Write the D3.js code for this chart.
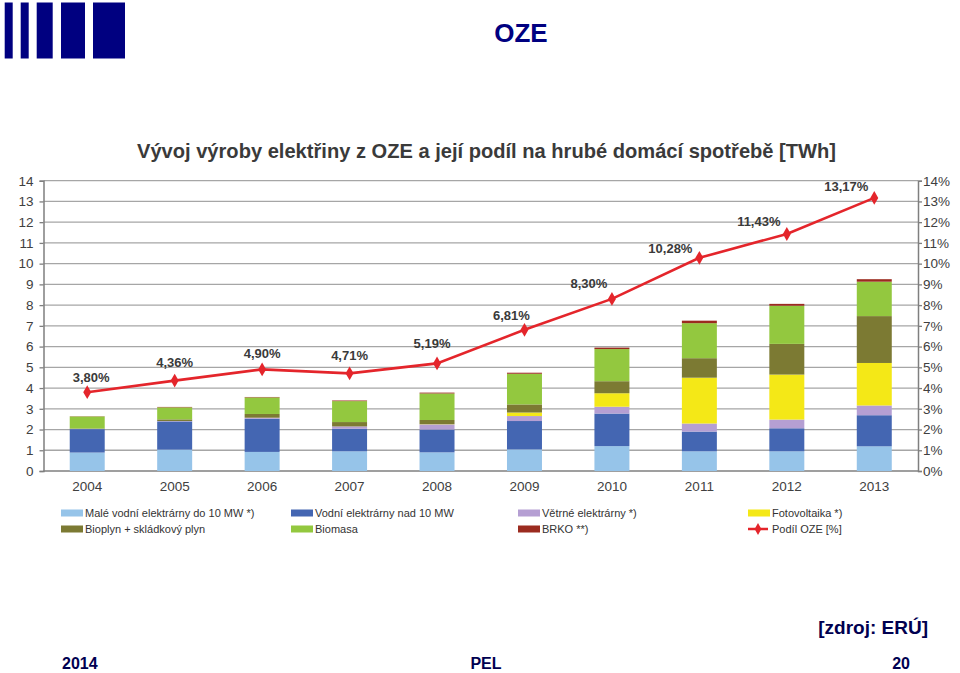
<!DOCTYPE html>
<html><head><meta charset="utf-8">
<script src="https://cdn.jsdelivr.net/npm/d3@7"></script>
<style>html,body{margin:0;padding:0;background:#fff;}svg{display:block;}</style>
</head><body>
<svg id="c" width="960" height="673"></svg>
<script>
// ---- data (TWh) ----
const years = ["2004","2005","2006","2007","2008","2009","2010","2011","2012","2013"];
const smallHydro = [0.89, 1.03, 0.92, 0.95, 0.90, 1.04, 1.20, 0.95, 0.95, 1.19];
const largeHydro = [1.13, 1.36, 1.60, 1.09, 1.10, 1.37, 1.57, 0.95, 1.11, 1.50];
const wind       = [0.01, 0.02, 0.05, 0.11, 0.25, 0.24, 0.33, 0.39, 0.42, 0.47];
const pv         = [0.00, 0.00, 0.00, 0.00, 0.01, 0.17, 0.65, 2.21, 2.17, 2.05];
const biogas     = [0.02, 0.08, 0.18, 0.21, 0.20, 0.39, 0.58, 0.94, 1.48, 2.26];
const biomass    = [0.58, 0.58, 0.80, 1.01, 1.28, 1.48, 1.55, 1.69, 1.84, 1.66];
const brko       = [0.01, 0.02, 0.02, 0.03, 0.04, 0.05, 0.07, 0.12, 0.09, 0.12];
const share      = [3.80, 4.36, 4.90, 4.71, 5.19, 6.81, 8.30, 10.28, 11.43, 13.17]; // %
const seriesNames = ["Malé vodní elektrárny do 10 MW *)","Vodní elektrárny nad 10 MW","Větrné elektrárny *)","Fotovoltaika *)","Bioplyn + skládkový plyn","Biomasa","BRKO **)"];
const lineName = "Podíl OZE [%]";
const leftTicks = d3.range(0, 15);
const rightTicks = d3.range(0, 15);

// ---- styles / layout ----
const colors = ["#96c4e9","#4466b2","#b59fd3","#f4e817","#7c7a33","#93c83f","#9b2b1f"];
const lineColor = "#e4252b";
const labelDx = [4, 0, 0, 0, -5, -13, -23, -29, -28, -28];
const labelDy = [-10, -14, -11, -13, -15, -10, -11, -5, -8, -7];
const M = {left: 43.5, right: 918, top: 180.7, bottom: 471};

const svg = d3.select("#c");
const font = "'Liberation Sans', Arial, sans-serif";

// header logo bars
const logoBars = [[4.7,8],[20.7,8],[36.7,16],[61,24],[93,32]];
svg.selectAll("rect.logo").data(logoBars).enter().append("rect")
  .attr("x", d=>d[0]).attr("y", 2.5).attr("width", d=>d[1]).attr("height", 56)
  .attr("fill", "#000080");
svg.append("text").attr("x", 521).attr("y", 42).attr("text-anchor","middle")
  .attr("font-family", font).attr("font-weight","bold").attr("font-size", 26)
  .attr("fill","#000080").text("OZE");

// chart title
svg.append("text").attr("x", 137).attr("y", 158)
  .attr("font-family", font).attr("font-weight","bold").attr("font-size", 21)
  .attr("fill","#3a3a3a").attr("textLength", 699).attr("lengthAdjust","spacingAndGlyphs")
  .text("Vývoj výroby elektřiny z OZE a její podíl na hrubé domácí spotřebě [TWh]");

// scales
const x = d3.scaleBand().domain(years).range([M.left, M.right]).paddingInner(0.6).paddingOuter(0.3);
const y = d3.scaleLinear().domain([0, 14]).range([M.bottom, M.top]);
const yR = d3.scaleLinear().domain([0, 14]).range([M.bottom, M.top]);

// gridlines
svg.append("g").selectAll("line").data(leftTicks.slice(1)).enter().append("line")
  .attr("x1", M.left).attr("x2", M.right).attr("y1", d=>y(d)).attr("y2", d=>y(d))
  .attr("stroke","#a6a6a6").attr("stroke-width",1.3);

// axes
const axL = svg.append("g").attr("transform",`translate(${M.left},0)`)
  .call(d3.axisLeft(y).tickValues(leftTicks).tickSize(4).tickPadding(6).tickFormat(d3.format("d")));
const axR = svg.append("g").attr("transform",`translate(${M.right},0)`)
  .call(d3.axisRight(yR).tickValues(rightTicks).tickSize(4).tickPadding(1).tickFormat(d=>d+"%"));
const axB = svg.append("g").attr("transform",`translate(0,${M.bottom})`)
  .call(d3.axisBottom(x).tickSize(0).tickPadding(10));
[axL, axR, axB].forEach(a=>{
  a.selectAll("path.domain").attr("stroke","#7f7f7f").attr("stroke-width",1.5);
  a.selectAll(".tick line").attr("stroke","#7f7f7f").attr("stroke-width",1.3);
  a.selectAll("text").attr("font-family", font).attr("font-size", 13.5).attr("fill","#404040");
});
axB.select("path.domain").attr("d", `M${M.left},0H${M.right}`);

// stacked bars
const table = years.map((yr,i)=>({year: yr, s0: smallHydro[i], s1: largeHydro[i], s2: wind[i], s3: pv[i], s4: biogas[i], s5: biomass[i], s6: brko[i]}));
const keys = ["s0","s1","s2","s3","s4","s5","s6"];
const stacked = d3.stack().keys(keys)(table);
svg.append("g").selectAll("g").data(stacked).enter().append("g")
  .attr("fill", (d,i)=>colors[i])
  .selectAll("rect").data(d=>d).enter().append("rect")
  .attr("x", d=>x(d.data.year)).attr("width", x.bandwidth())
  .attr("y", d=>y(d[1])).attr("height", d=>Math.max(0, y(d[0])-y(d[1])));

// share line
const pts = years.map((yr,i)=>({year: yr, v: share[i], i}));
const cx = d=>x(d.year)+x.bandwidth()/2;
svg.append("path").datum(pts)
  .attr("d", d3.line().x(cx).y(d=>yR(d.v)))
  .attr("fill","none").attr("stroke", lineColor).attr("stroke-width", 2.6);
const diamond = d3.symbol().type(d3.symbolDiamond).size(55);
svg.append("g").selectAll("path").data(pts).enter().append("path")
  .attr("transform", d=>`translate(${cx(d)},${yR(d.v)})`)
  .attr("d", diamond).attr("fill", lineColor);
svg.append("g").selectAll("text").data(pts).enter().append("text")
  .attr("x", d=>cx(d)+labelDx[d.i]).attr("y", d=>yR(d.v)+labelDy[d.i])
  .attr("text-anchor","middle").attr("font-family", font).attr("font-weight","bold")
  .attr("font-size", 13).attr("fill","#3a3a3a")
  .text(d=>d.v.toFixed(2).replace(".", ",") + "%");

// legend
const legCols = [61, 291, 518, 748];
const legRows = [513, 529];
const legItems = seriesNames.map((n,i)=>({name:n, color:colors[i], type:"rect"}));
legItems.push({name: lineName, color: lineColor, type:"line"});
const lg = svg.append("g").selectAll("g").data(legItems).enter().append("g")
  .attr("transform", (d,i)=>`translate(${legCols[i%4]},${legRows[Math.floor(i/4)]})`);
lg.filter(d=>d.type==="rect").append("rect")
  .attr("x",0).attr("y",-3.5).attr("width",22).attr("height",7).attr("fill",d=>d.color);
lg.filter(d=>d.type==="line").append("line")
  .attr("x1",0).attr("x2",20).attr("y1",0).attr("y2",0).attr("stroke",d=>d.color).attr("stroke-width",2.5);
lg.filter(d=>d.type==="line").append("path")
  .attr("transform","translate(10,0)").attr("d", d3.symbol().type(d3.symbolDiamond).size(40)).attr("fill",d=>d.color);
lg.append("text").attr("x", 24).attr("y", 4)
  .attr("font-family", font).attr("font-size", 11).attr("fill","#333")
  .text(d=>d.name);

// footer
svg.append("text").attr("x", 928).attr("y", 634).attr("text-anchor","end")
  .attr("font-family", font).attr("font-weight","bold").attr("font-size", 19)
  .attr("fill","#000050").text("[zdroj: ERÚ]");
const foot = [[62,"start","2014"],[486,"middle","PEL"],[910,"end","20"]];
svg.append("g").selectAll("text").data(foot).enter().append("text")
  .attr("x", d=>d[0]).attr("y", 669).attr("text-anchor", d=>d[1])
  .attr("font-family", font).attr("font-weight","bold").attr("font-size", 16)
  .attr("fill","#000050").text(d=>d[2]);
</script>
</body></html>
